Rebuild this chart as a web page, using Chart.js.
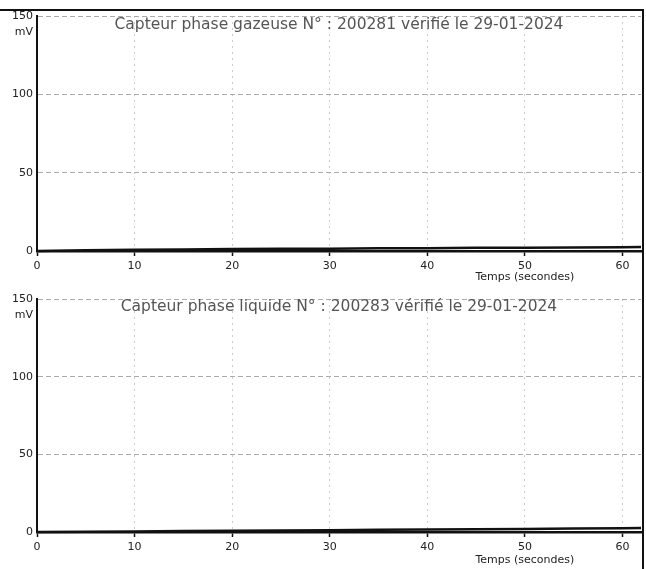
<!DOCTYPE html>
<html>
<head>
<meta charset="utf-8">
<script src="https://cdn.jsdelivr.net/npm/chart.js@4/dist/chart.umd.min.js"></script>
<style>
  html, body { margin: 0; padding: 0; background: #fff; }
  #page { position: relative; width: 646px; height: 569px; overflow: hidden; }
  #frameTop { position: absolute; left: 0; top: 9px; width: 644px; height: 2px; background: #111; }
  #frameRight { position: absolute; left: 642px; top: 9px; width: 2px; height: 560px; background: #111; }
  .panel { position: absolute; left: 0; }
  .panel canvas { display: block; }
</style>
</head>
<body>
<div id="page">
  <div class="panel" style="top:0px"><canvas id="gas" width="646" height="283"></canvas></div>
  <div class="panel" style="top:283px"><canvas id="liquid" width="646" height="286"></canvas></div>
  <div id="frameTop"></div>
  <div id="frameRight"></div>
</div>
<script>
// time in seconds
const times = [0, 5, 10, 15, 20, 25, 30, 35, 40, 45, 50, 55, 60, 61.9];
// mV, both sensors stay close to zero
const gasValues = [0, 0.5, 0.8, 1.0, 1.2, 1.4, 1.5, 1.7, 1.8, 2.0, 2.1, 2.3, 2.4, 2.5];
const liquidValues = [0, 0.2, 0.4, 0.6, 0.8, 1.0, 1.2, 1.4, 1.6, 1.8, 2.0, 2.2, 2.4, 2.5];
const yTicks = [0, 50, 100, 150];
const gasTitle = 'Capteur phase gazeuse N° : 200281 vérifié le 29-01-2024';
const liquidTitle = 'Capteur phase liquide N° : 200283 vérifié le 29-01-2024';
const xLabel = 'Temps (secondes)';
const yUnit = 'mV';

const panelText = {
    id: 'panelText',
    afterDraw(chart, args, opts) {
        const ctx = chart.ctx;
        const area = chart.chartArea;
        const x = chart.scales.x;
        const y = chart.scales.y;
        ctx.save();
        ctx.font = '15.5px "DejaVu Sans"';
        ctx.fillStyle = '#555';
        ctx.textAlign = 'center';
        ctx.textBaseline = 'middle';
        ctx.fillText(opts.title, (area.left + area.right) / 2, area.top + opts.titleOffset);
        ctx.font = '11px "DejaVu Sans"';
        ctx.fillStyle = '#222';
        ctx.fillText(xLabel, x.getPixelForValue(50), area.bottom + opts.xLabelOffset);
        ctx.textAlign = 'right';
        ctx.fillText(yUnit, area.left - 4, y.getPixelForValue(150) + 16);
        ctx.restore();
    }
};

function makeChart(id, values, title, opts) {
    const el = document.getElementById(id);
    return new Chart(el.getContext('2d'), {
        type: 'line',
        data: {
            datasets: [{
                data: times.map((t, i) => ({ x: t, y: values[i] })),
                borderColor: '#111',
                borderWidth: 2.5,
                pointRadius: 0,
                tension: 0,
                clip: 4
            }]
        },
        options: {
            responsive: false,
            animation: false,
            events: [],
            layout: { padding: { top: opts.top, right: 5, left: 0, bottom: 0 } },
            plugins: {
                legend: { display: false },
                tooltip: { enabled: false },
                panelText: { title: title, titleOffset: opts.titleOffset, xLabelOffset: opts.xLabelOffset }
            },
            scales: {
                x: {
                    type: 'linear',
                    min: 0,
                    max: 61.9,
                    afterFit: (s) => { s.height = opts.xHeight; },
                    ticks: {
                        stepSize: 10,
                        includeBounds: false,
                        maxRotation: 0,
                        padding: 4,
                        color: '#222',
                        font: { size: 11, family: '"DejaVu Sans"' }
                    },
                    grid: {
                        color: (c) => c.tick && c.tick.value === 0 ? 'rgba(0,0,0,0)' : '#cccccc',
                        lineWidth: 1,
                        tickLength: 5,
                        tickColor: '#111',
                        tickWidth: 1.5
                    },
                    border: { color: '#111', width: 2.5, dash: [2, 4] }
                },
                y: {
                    min: 0,
                    max: 150,
                    afterFit: (s) => { s.width = 37; },
                    afterBuildTicks: (s) => { s.ticks = yTicks.map(v => ({ value: v })); },
                    ticks: {
                        padding: 4,
                        color: '#222',
                        font: { size: 11, family: '"DejaVu Sans"' }
                    },
                    grid: {
                        color: (c) => c.tick && c.tick.value === 0 ? 'rgba(0,0,0,0)' : '#ababab',
                        lineWidth: 1,
                        drawTicks: false
                    },
                    border: { color: '#111', width: 2, dash: [5, 3] }
                }
            }
        },
        plugins: [panelText]
    });
}

makeChart('gas', gasValues, gasTitle, { top: 16, xHeight: 32, titleOffset: 9, xLabelOffset: 26 });
makeChart('liquid', liquidValues, liquidTitle, { top: 16, xHeight: 37, titleOffset: 8, xLabelOffset: 28 });
</script>
</body>
</html>
